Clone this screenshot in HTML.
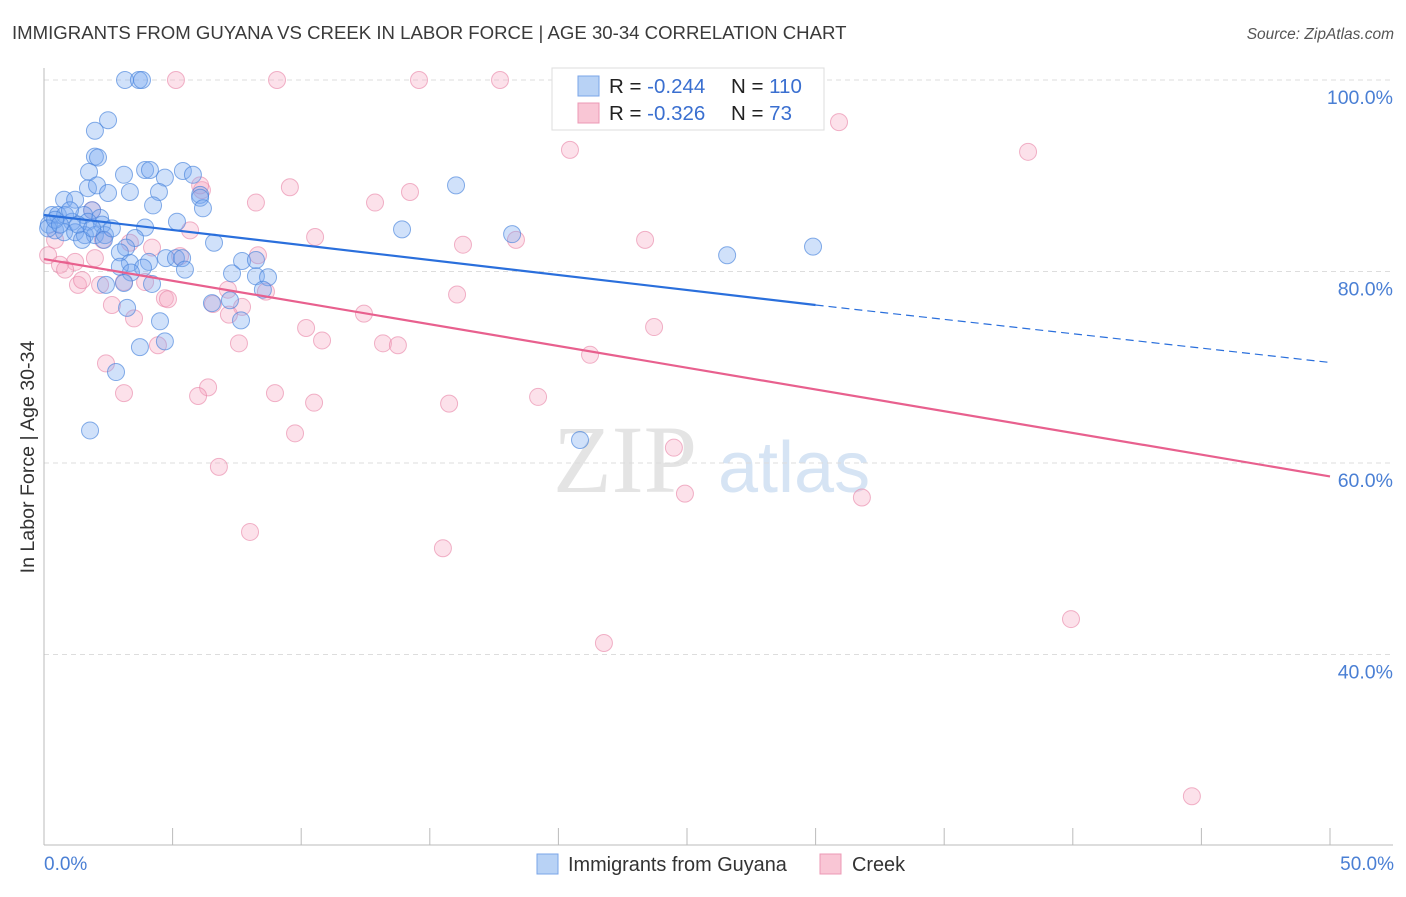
<!DOCTYPE html>
<html><head><meta charset="utf-8"><style>
body{margin:0;background:#fff;font-family:"Liberation Sans",sans-serif;}
</style></head><body>
<svg id="chart" width="1406" height="892" xmlns="http://www.w3.org/2000/svg" style="font-family:'Liberation Sans',sans-serif">
<text x="12" y="39" font-size="18.6" fill="#3a3a3a">IMMIGRANTS FROM GUYANA VS CREEK IN LABOR FORCE | AGE 30-34 CORRELATION CHART</text>
<text x="1394" y="39" font-size="15.5" fill="#555" text-anchor="end" font-style="italic">Source: ZipAtlas.com</text>
<g>
<text x="553" y="492" font-size="96" fill="#e4e4e4" font-family="'Liberation Serif',serif">ZIP</text>
<text x="718" y="492" font-size="72" fill="#d6e4f4">atlas</text>
</g>
<g id="grid"></g>
<g id="axes"></g>
<g id="points"></g>
<g id="trends"></g>
<text transform="translate(34,457) rotate(-90)" font-size="19.6" fill="#333" text-anchor="middle">In Labor Force | Age 30-34</text>
<text x="44" y="870" font-size="19" fill="#4a7fd4">0.0%</text>
<text x="1394" y="870" font-size="19" fill="#4a7fd4" text-anchor="end">50.0%</text>
<g>
<rect x="552" y="68" width="272" height="62" fill="#fff" stroke="#ddd"/>
<rect x="578" y="76" width="21" height="20" fill="#b8d2f5" stroke="#7aa5e8"/>
<rect x="578" y="103" width="21" height="20" fill="#f9c6d5" stroke="#ec98b5"/>
<text x="609" y="93" font-size="20.5" fill="#222">R = <tspan fill="#3a6fd0">-0.244</tspan><tspan x="731">N = </tspan><tspan fill="#3a6fd0">110</tspan></text>
<text x="609" y="120" font-size="20.5" fill="#222">R = <tspan fill="#3a6fd0"> -0.326</tspan><tspan x="731">N = </tspan><tspan fill="#3a6fd0"> 73</tspan></text>
</g>
<g>
<rect x="537" y="854" width="21" height="20" fill="#b8d2f5" stroke="#7aa5e8"/>
<text x="568" y="871" font-size="19.9" fill="#333">Immigrants from Guyana</text>
<rect x="820" y="854" width="21" height="20" fill="#f9c6d5" stroke="#ec98b5"/>
<text x="852" y="871" font-size="19.9" fill="#333">Creek</text>
</g>
</svg>
<script>
const yTicks=[100,80,60,40];
const yTickLabels=["100.0%","80.0%","60.0%","40.0%"];
const xTicks=[0,5,10,15,20,25,30,35,40,45,50];
const blueX=[3.15,3.69,3.81,2.49,1.98,1.98,2.1,1.75,3.11,3.93,4.12,5.4,5.79,4.7,1.71,2.06,3.34,4.47,2.49,6.07,6.07,6.18,4.24,16.02,0.78,1.21,1.87,2.18,1.56,0.31,0.54,0.82,1.09,1.71,2.26,3.93,5.17,0.19,0.43,0.78,1.21,1.59,1.98,2.37,13.92,18.2,1.48,3.54,2.33,6.61,3.19,2.95,29.9,26.56,4.74,5.13,5.37,3.34,4.08,7.7,8.24,2.95,3.85,3.38,5.48,7.31,8.24,8.71,2.41,3.11,4.2,8.51,6.53,7.23,3.23,4.51,7.66,4.7,3.73,2.8,1.79,20.84,0.16,0.43,0.62,1.01,1.32,1.87,2.64];
const blueY=[100,100,100,95.8,94.7,92,91.9,90.4,90.1,90.6,90.6,90.5,90.1,89.8,88.7,89,88.3,88.3,88.2,88,87.7,86.6,86.9,89,87.5,87.5,86.4,85.6,85.9,85.9,85.9,85.9,85.2,85.2,84.9,84.6,85.2,84.9,84.3,84.1,84.1,83.8,83.8,83.8,84.4,83.9,83.3,83.5,83.3,83,82.5,82,82.6,81.7,81.4,81.4,81.4,80.9,81,81.1,81.2,80.5,80.4,79.9,80.2,79.8,79.5,79.4,78.6,78.8,78.7,78.1,76.7,77,76.2,74.8,74.9,72.7,72.1,69.5,63.4,62.4,84.5,85.4,84.9,86.4,84.9,84.5,84.5];
const pinkX=[5.13,9.06,14.58,17.73,22.2,30.91,20.45,38.26,9.56,6.14,14.23,12.87,8.24,5.68,10.54,16.29,18.35,23.37,0.43,0.16,1.98,1.21,0.62,0.82,3.34,4.2,5.29,8.32,1.32,2.18,3.11,3.93,4.7,2.64,3.5,6.57,7.15,7.7,7.19,8.63,16.06,10.19,10.81,12.44,13.18,13.76,21.23,23.72,7.58,4.43,2.41,3.11,6.38,5.99,8.98,10.5,15.75,19.21,9.76,24.49,6.8,24.92,31.8,8.01,15.51,21.77,39.93,44.63,1.48,4.82,1.87,2.29,6.07];
const pinkY=[100,100,100,100,100,95.6,92.7,92.5,88.8,88.5,88.3,87.2,87.2,84.3,83.6,82.8,83.3,83.3,83.3,81.7,81.4,81,80.7,80.2,83,82.5,81.6,81.7,78.6,78.6,78.9,78.9,77.2,76.5,75.1,76.6,78.1,76.3,75.5,77.9,77.6,74.1,72.8,75.6,72.5,72.3,71.3,74.2,72.5,72.3,70.4,67.3,67.9,67,67.3,66.3,66.2,66.9,63.1,61.6,59.6,56.8,56.4,52.8,51.1,41.2,43.7,25.2,79.1,77.1,86.4,83.3,89];
const blueTrendX=[0,30,50];
const blueTrendY=[85.9,76.5,70.5];
const pinkTrendX=[0,50];
const pinkTrendY=[81.3,58.6];

const NS="http://www.w3.org/2000/svg";
function xs(v){return 44+v*25.72;}
function ys(v){return 80+(100-v)*9.575;}
function mk(tag,attrs,parent){const e=document.createElementNS(NS,tag);for(const k in attrs)e.setAttribute(k,attrs[k]);document.getElementById(parent).appendChild(e);return e;}

yTicks.forEach((t,i)=>{
  const l=mk('line',{x1:44,x2:1393,y1:ys(t),y2:ys(t),stroke:'#ddd','stroke-dasharray':'5,4'},'grid');
  
  
  const tx=mk('text',{x:1393,y:ys(t)+24,'font-size':19.5,fill:'#4a7fd4','text-anchor':'end'},'grid');
  tx.textContent=yTickLabels[i];
  
  
});
const ya=mk('line',{x1:44,x2:44,y1:68,y2:845,stroke:'#bbb'},'axes');


const xa=mk('line',{x1:44,x2:1393,y1:845,y2:845,stroke:'#bbb'},'axes');


xTicks.forEach(t=>{
  const l=mk('line',{x1:xs(t),x2:xs(t),y1:828,y2:845,stroke:'#bbb'},'axes');
  
  
});
function dots(X,Y,fill,stroke,name){
  X.forEach((v,i)=>{
    const c=mk('circle',{cx:xs(v),cy:ys(Y[i]),r:8.5,fill:fill,stroke:stroke,'stroke-width':1},'points');
    
    
  });
}
dots(pinkX,pinkY,'rgba(245,170,195,0.35)','rgba(232,130,165,0.6)','creek-point');
dots(blueX,blueY,'rgba(120,170,240,0.35)','rgba(70,130,220,0.65)','guyana-point');

const b1=mk('line',{x1:xs(blueTrendX[0]),y1:ys(blueTrendY[0]),x2:xs(blueTrendX[1]),y2:ys(blueTrendY[1]),stroke:'#2a6fdc','stroke-width':2.2},'trends');


const b2=mk('line',{x1:xs(blueTrendX[1]),y1:ys(blueTrendY[1]),x2:xs(blueTrendX[2]),y2:ys(blueTrendY[2]),stroke:'#2a6fdc','stroke-width':1.2,'stroke-dasharray':'8,5'},'trends');


const p1=mk('line',{x1:xs(pinkTrendX[0]),y1:ys(pinkTrendY[0]),x2:xs(pinkTrendX[1]),y2:ys(pinkTrendY[1]),stroke:'#e8608e','stroke-width':2.2},'trends');


</script>
</body></html>
